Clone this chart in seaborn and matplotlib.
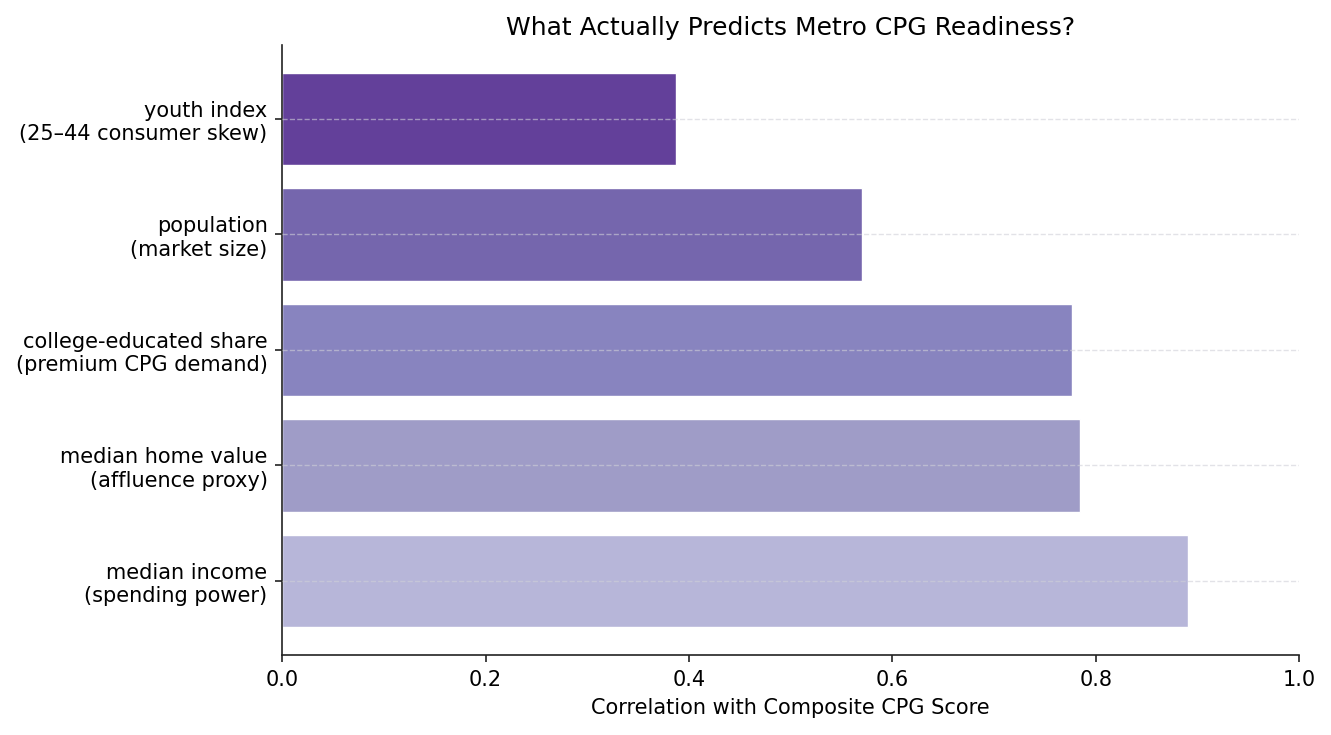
import matplotlib
matplotlib.use("Agg")
import matplotlib.pyplot as plt
import seaborn as sns
import pandas as pd

categories = [
    "youth index\n(25\u201344 consumer skew)",
    "population\n(market size)",
    "college-educated share\n(premium CPG demand)",
    "median home value\n(affluence proxy)",
    "median income\n(spending power)",
]
correlations = [0.387, 0.570, 0.777, 0.785, 0.891]
colors = ["#63409a", "#7566ad", "#8884bf", "#9f9cc7", "#b7b6d9"]

df = pd.DataFrame({"factor": categories, "corr": correlations})

sns.set_style("white")
plt.rcParams["font.family"] = ["DejaVu Sans"]
plt.rcParams["text.color"] = "black"
plt.rcParams["axes.labelcolor"] = "black"

fig = plt.figure(figsize=(13.31, 7.35), dpi=100)
ax = fig.add_axes([0.212, 0.109, 0.764, 0.830])

sns.barplot(data=df, x="corr", y="factor", hue="factor", palette=colors,
            order=categories, hue_order=categories, legend=False,
            width=0.8, saturation=1, ax=ax, zorder=1)

ax.set_xlim(0, 1.0)
ax.set_ylim(4.64, -0.64)
ax.set_xticks([0, 0.2, 0.4, 0.6, 0.8, 1.0])
ax.set_xticklabels(["0.0", "0.2", "0.4", "0.6", "0.8", "1.0"])
ax.tick_params(axis="both", labelsize=15, length=5, width=1.2, direction="out",
               left=True, bottom=True, colors="#222222", labelcolor="black")
ax.tick_params(axis="y", pad=5.5)
ax.tick_params(axis="x", pad=6)
ax.yaxis.grid(True, linestyle="--", color="#d0d0d8", alpha=0.6, linewidth=1)
ax.set_axisbelow(False)
for gl in ax.get_ygridlines():
    gl.set_zorder(3)
ax.xaxis.grid(False)
sns.despine(ax=ax)
for s in ["left", "bottom"]:
    ax.spines[s].set_color("#222222")
    ax.spines[s].set_linewidth(1.2)

ax.set_xlabel("Correlation with Composite CPG Score", fontsize=15, labelpad=6)
ax.set_ylabel("")
ax.set_title("What Actually Predicts Metro CPG Readiness?", fontsize=18, pad=7)

fig.savefig("out.png", dpi=100)
